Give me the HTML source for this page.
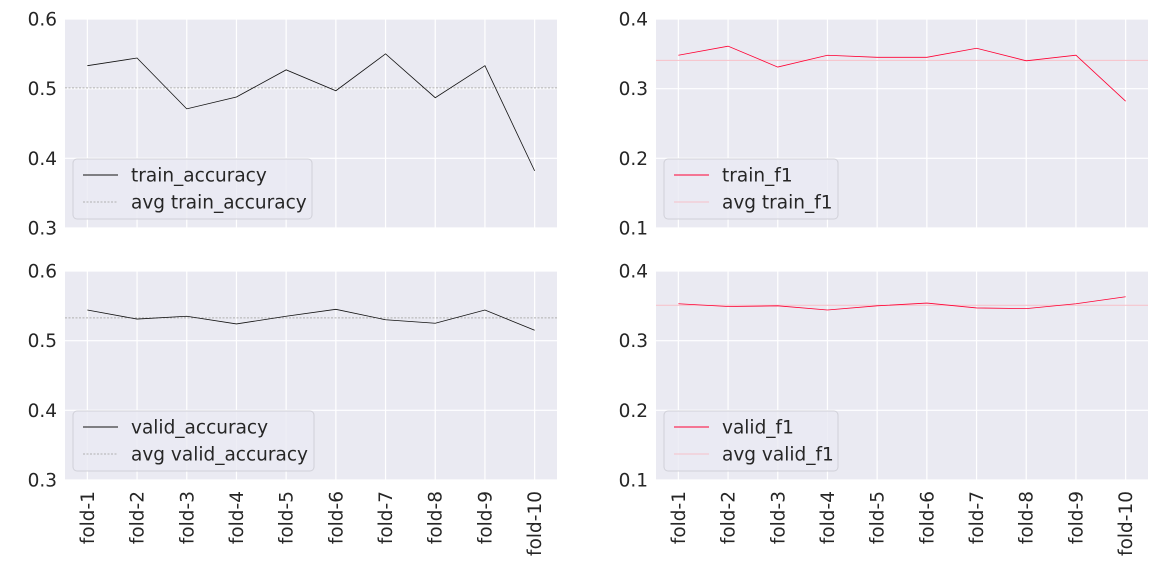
<!DOCTYPE html>
<html><head><meta charset="utf-8"><style>
body{margin:0;background:#fff;}
svg{display:block;font-family:"DejaVu Sans","Liberation Sans",sans-serif;}
</style></head><body>
<svg id="chart" width="1166" height="579"></svg>
<script>
const folds = ["fold-1","fold-2","fold-3","fold-4","fold-5","fold-6","fold-7","fold-8","fold-9","fold-10"];
const trainAccuracy = [0.533,0.544,0.471,0.488,0.527,0.497,0.550,0.487,0.533,0.382];
const trainF1 = [0.348,0.361,0.331,0.348,0.345,0.345,0.358,0.340,0.348,0.282];
const validAccuracy = [0.544,0.531,0.535,0.524,0.535,0.545,0.530,0.525,0.544,0.515];
const validF1 = [0.353,0.349,0.350,0.344,0.350,0.354,0.347,0.346,0.353,0.363];
const accTicks = [0.3,0.4,0.5,0.6];
const f1Ticks = [0.1,0.2,0.3,0.4];

const NS="http://www.w3.org/2000/svg";
const svg=document.getElementById('chart');
const FS=18.5;
function mk(tag,attrs,parent){const e=document.createElementNS(NS,tag);for(const k in attrs)e.setAttribute(k,attrs[k]);(parent||svg).appendChild(e);return e;}

const panels=[
 {x0:65,x1:557,y0:19,y1:228,data:trainAccuracy,ticks:accTicks,name:"train_accuracy",color:"#111",avgColor:"#b0b0b0",dash:"2,1.5",labels:false,legW:239,id:"train-accuracy"},
 {x0:656,x1:1148,y0:19,y1:228,data:trainF1,ticks:f1Ticks,name:"train_f1",color:"#ff0033",avgColor:"#f7c0c8",dash:"",labels:false,legW:174,id:"train-f1"},
 {x0:65,x1:557,y0:271,y1:480,data:validAccuracy,ticks:accTicks,name:"valid_accuracy",color:"#111",avgColor:"#b0b0b0",dash:"2,1.5",labels:true,legW:241,id:"valid-accuracy"},
 {x0:656,x1:1148,y0:271,y1:480,data:validF1,ticks:f1Ticks,name:"valid_f1",color:"#ff0033",avgColor:"#f7c0c8",dash:"",labels:true,legW:174,id:"valid-f1"}
];

panels.forEach(p=>{
  const g=mk('g',{});
  
  
  const n=folds.length;
  const xs=i=>p.x0+(i+0.45)*(p.x1-p.x0)/(n-1+0.9);
  const tmin=p.ticks[0],tmax=p.ticks[p.ticks.length-1];
  const ys=v=>p.y1-(v-tmin)/(tmax-tmin)*(p.y1-p.y0);
  const bg=mk('rect',{x:p.x0,y:p.y0,width:p.x1-p.x0,height:p.y1-p.y0,fill:"#eaeaf2"},g);
  
  
  p.ticks.forEach(t=>{
    const l=mk('line',{x1:p.x0,x2:p.x1,y1:ys(t),y2:ys(t),stroke:"#fff","stroke-width":1.2},g);
    
    
    const tx=mk('text',{x:p.x0-8,y:ys(t)+6.5,"text-anchor":"end","font-size":FS,fill:"#262626"},g);
    tx.textContent=t.toFixed(1);
    
    
  });
  folds.forEach((f,i)=>{
    const l=mk('line',{x1:xs(i),x2:xs(i),y1:p.y0,y2:p.y1,stroke:"#fff","stroke-width":1.2},g);
    
    
    if(p.labels){
      const tx=mk('text',{x:0,y:0,"text-anchor":"end","font-size":FS,fill:"#262626",transform:`translate(${xs(i)+6.5},${p.y1+11}) rotate(-90)`},g);
      tx.textContent=f;
      
      
    }
  });
  const avg=p.data.reduce((a,b)=>a+b,0)/p.data.length;
  const al=mk('line',{x1:p.x0,x2:p.x1,y1:ys(avg),y2:ys(avg),stroke:p.avgColor,"stroke-width":1,"stroke-dasharray":p.dash},g);
  
  
  const pl=mk('polyline',{points:p.data.map((v,i)=>xs(i)+","+ys(v)).join(" "),fill:"none",stroke:p.color,"stroke-width":0.8},g);
  
  
  const lx=p.x0+8,ly=p.y1-69;
  const lg=mk('g',{},g);
  
  
  mk('rect',{x:lx,y:ly,width:p.legW,height:60,rx:4,fill:"#eaeaf2",stroke:"#d0d0d8","stroke-width":1,"fill-opacity":0.8},lg);
  mk('line',{x1:lx+10,x2:lx+45,y1:ly+16,y2:ly+16,stroke:p.color,"stroke-width":0.9},lg);
  const t1=mk('text',{x:lx+58,y:ly+22.5,"font-size":FS,fill:"#262626"},lg);t1.textContent=p.name;
  
  
  mk('line',{x1:lx+10,x2:lx+45,y1:ly+43,y2:ly+43,stroke:p.avgColor,"stroke-width":1,"stroke-dasharray":p.dash},lg);
  const t2=mk('text',{x:lx+58,y:ly+49.5,"font-size":FS,fill:"#262626"},lg);t2.textContent="avg "+p.name;
  
  
});
</script>
</body></html>
